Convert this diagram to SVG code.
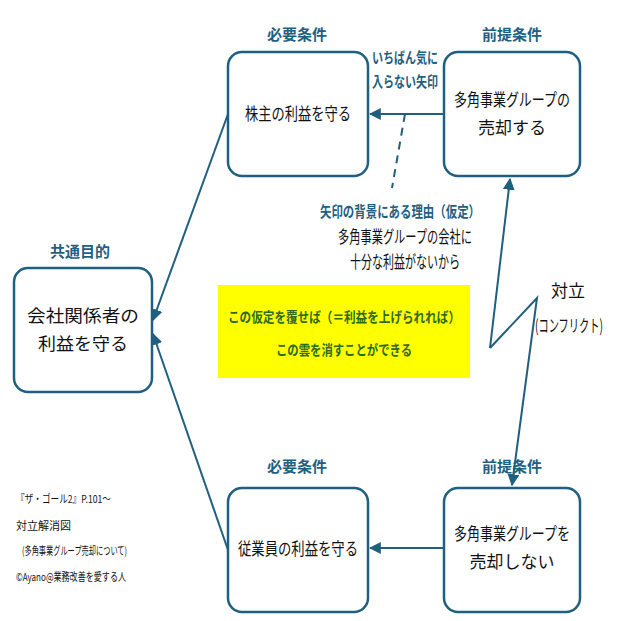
<svg xmlns="http://www.w3.org/2000/svg" width="621" height="621" viewBox="0 0 621 621">
<style>
.box{fill:#fff;stroke:#1f5f7f;stroke-width:2.5}
.t{font-family:"Noto Sans CJK JP",sans-serif;font-size:17px;fill:#111;text-anchor:middle}
.h{font-family:"Noto Sans CJK JP",sans-serif;font-size:15px;font-weight:bold;fill:#1f5f7f;text-anchor:middle}
.y{font-family:"Noto Sans CJK JP",sans-serif;font-size:14px;font-weight:bold;fill:#2f6a1f;text-anchor:middle}
.s{font-family:"Noto Sans CJK JP",sans-serif;font-size:11px;fill:#111}
.c{stroke:#1f5f7f;stroke-width:2;fill:none}
</style>
<defs><marker id="a" viewBox="0 0 10 10" refX="9" refY="5" markerWidth="6" markerHeight="6" orient="auto"><path d="M0,0L10,5L0,10z" fill="#1f5f7f"/></marker></defs>
<rect x="218" y="285" width="252" height="93" fill="#ffff00"/>
<text class="y" x="344" y="322" textLength="232" lengthAdjust="spacingAndGlyphs">この仮定を覆せば（＝利益を上げられれば）</text>
<text class="y" x="344" y="355" textLength="136" lengthAdjust="spacingAndGlyphs">この雲を消すことができる</text>
<g id="goal"><rect class="box" x="14" y="268" width="138" height="124" rx="14"/><text class="h" x="80" y="257">共通目的</text><text class="t" x="83" y="322" textLength="112" lengthAdjust="spacingAndGlyphs">会社関係者の</text><text class="t" x="83" y="350" textLength="90" lengthAdjust="spacingAndGlyphs">利益を守る</text></g>
<g id="req1"><rect class="box" x="228" y="52" width="140" height="124" rx="14"/><text class="h" x="297" y="40">必要条件</text><text class="t" x="298" y="120" textLength="106" lengthAdjust="spacingAndGlyphs">株主の利益を守る</text></g>
<g id="pre1"><rect class="box" x="444" y="52" width="136" height="124" rx="14"/><text class="h" x="512" y="40">前提条件</text><text class="t" x="512" y="106" textLength="116" lengthAdjust="spacingAndGlyphs">多角事業グループの</text><text class="t" x="512" y="134">売却する</text></g>
<g id="req2"><rect class="box" x="228" y="488" width="140" height="124" rx="14"/><text class="h" x="297" y="472">必要条件</text><text class="t" x="298" y="555" textLength="120" lengthAdjust="spacingAndGlyphs">従業員の利益を守る</text></g>
<g id="pre2"><rect class="box" x="444" y="488" width="136" height="124" rx="14"/><text class="h" x="512" y="472">前提条件</text><text class="t" x="512" y="540" textLength="116" lengthAdjust="spacingAndGlyphs">多角事業グループを</text><text class="t" x="512" y="568">売却しない</text></g>
<g id="connectors">
<line class="c" x1="228" y1="114" x2="153" y2="320" marker-end="url(#a)"/>
<line class="c" x1="228" y1="550" x2="153" y2="334" marker-end="url(#a)"/>
<line class="c" x1="444" y1="114" x2="370" y2="114" stroke-width="2.5" marker-end="url(#a)"/>
<line class="c" x1="444" y1="548" x2="370" y2="548" stroke-width="2.5" marker-end="url(#a)"/>
<line class="c" x1="405" y1="114" x2="392" y2="188" stroke-dasharray="8,6"/>
<path class="c" d="M490,348L510,179" marker-end="url(#a)"/>
<path class="c" d="M490,348L537,298L512,485" marker-end="url(#a)"/>
</g>
<text class="h" x="405" y="63" font-size="14" textLength="66" lengthAdjust="spacingAndGlyphs">いちばん気に</text>
<text class="h" x="405" y="87" font-size="14" textLength="66" lengthAdjust="spacingAndGlyphs">入らない矢印</text>
<text class="h" x="400" y="217" font-size="14" textLength="160" lengthAdjust="spacingAndGlyphs">矢印の背景にある理由（仮定）</text>
<text class="t" x="405" y="243" font-size="15" textLength="134" lengthAdjust="spacingAndGlyphs">多角事業グループの会社に</text>
<text class="t" x="405" y="268" font-size="15" textLength="110" lengthAdjust="spacingAndGlyphs">十分な利益がないから</text>
<text class="t" x="568" y="297">対立</text>
<text class="t" x="569" y="332" textLength="68" lengthAdjust="spacingAndGlyphs">(コンフリクト)</text>
<text class="s" x="16" y="503" textLength="95" lengthAdjust="spacingAndGlyphs">『ザ・ゴール2』P.101～</text>
<text class="s" x="16" y="530">対立解消図</text>
<text class="s" x="22" y="555" font-size="10" textLength="105" lengthAdjust="spacingAndGlyphs">(多角事業グループ売却について)</text>
<text class="s" x="16" y="581" textLength="110" lengthAdjust="spacingAndGlyphs">©Ayano@業務改善を愛する人</text>
</svg>
